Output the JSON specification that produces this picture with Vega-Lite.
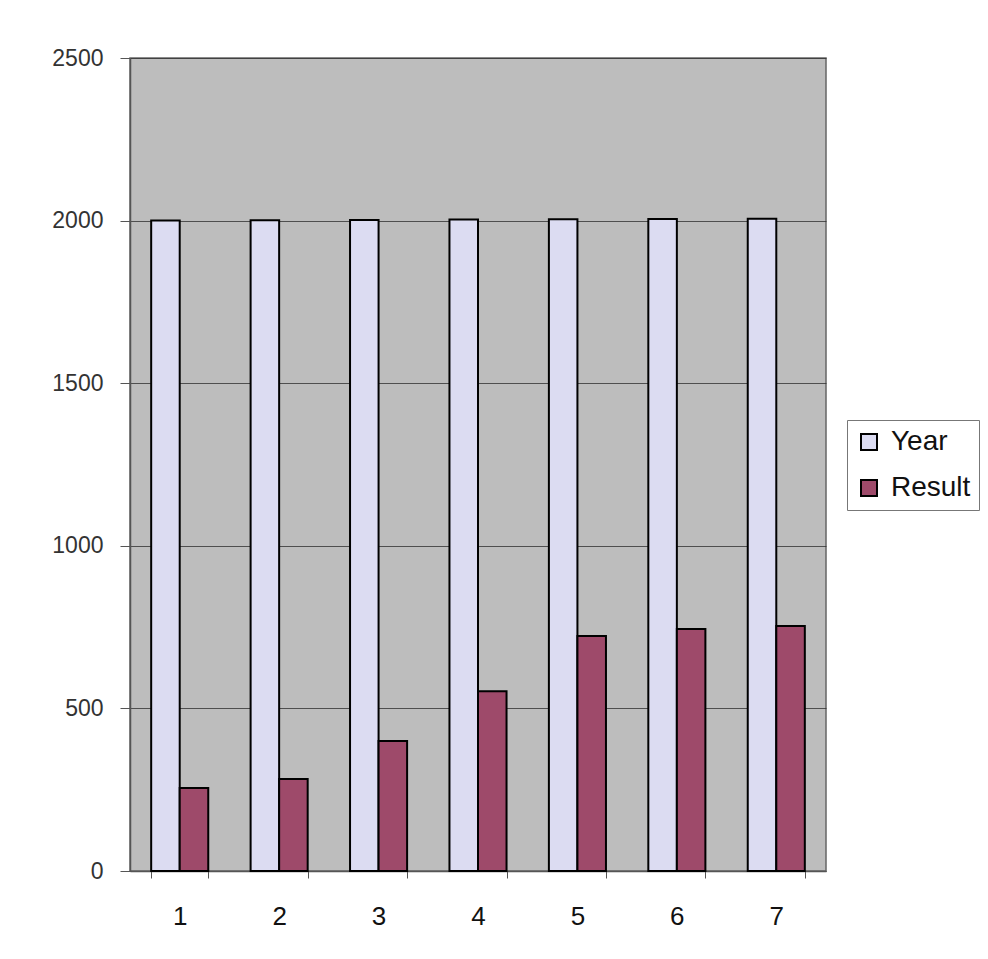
{
  "$schema": "https://vega.github.io/schema/vega-lite/v6.json",
  "autosize": {"type": "none"},
  "width": 696,
  "height": 813,
  "padding": {"left": 130, "top": 58, "right": 162, "bottom": 88},
  "background": "#ffffff",
  "data": {
    "values": [
      {"n": "1", "series": "Year", "value": 2000},
      {"n": "1", "series": "Result", "value": 255},
      {"n": "2", "series": "Year", "value": 2001},
      {"n": "2", "series": "Result", "value": 283},
      {"n": "3", "series": "Year", "value": 2002},
      {"n": "3", "series": "Result", "value": 400},
      {"n": "4", "series": "Year", "value": 2003},
      {"n": "4", "series": "Result", "value": 553},
      {"n": "5", "series": "Year", "value": 2004},
      {"n": "5", "series": "Result", "value": 723},
      {"n": "6", "series": "Year", "value": 2005},
      {"n": "6", "series": "Result", "value": 744},
      {"n": "7", "series": "Year", "value": 2006},
      {"n": "7", "series": "Result", "value": 753}
    ]
  },
  "mark": {"type": "bar", "stroke": "#000000", "strokeWidth": 2},
  "encoding": {
    "x": {
      "field": "n",
      "type": "nominal",
      "scale": {"paddingInner": 0.426, "paddingOuter": 0.213},
      "axis": {
        "title": null,
        "labelAngle": 0,
        "labelFont": "Liberation Sans",
        "labelFontSize": 26,
        "labelColor": "#111111",
        "labelPadding": 25,
        "tickBand": "extent",
        "tickColor": "#555555",
        "tickSize": 7,
        "domainColor": "#555555",
        "domainWidth": 1.5
      }
    },
    "xOffset": {"field": "series", "type": "nominal", "sort": ["Year", "Result"], "scale": {"paddingInner": 0, "paddingOuter": 0}},
    "y": {
      "field": "value",
      "type": "quantitative",
      "scale": {"domain": [0, 2500]},
      "axis": {
        "title": null,
        "values": [0, 500, 1000, 1500, 2000, 2500],
        "format": "d",
        "labelFont": "Liberation Sans",
        "labelFontSize": 23,
        "labelColor": "#333333",
        "labelPadding": 17,
        "tickColor": "#555555",
        "tickSize": 10,
        "domainColor": "#555555",
        "domainWidth": 1.5,
        "grid": true,
        "gridColor": "#333333",
        "gridWidth": 1,
        "gridOpacity": 0.8
      }
    },
    "color": {
      "field": "series",
      "type": "nominal",
      "sort": ["Year", "Result"],
      "scale": {"domain": ["Year", "Result"], "range": ["#dcdcf2", "#9e4a6a"]},
      "legend": {
        "title": null,
        "orient": "none",
        "legendX": 717,
        "legendY": 362,
        "labelFont": "Liberation Sans",
        "labelFontSize": 28,
        "labelColor": "#111111",
        "labelOffset": 8,
        "symbolType": "square",
        "symbolSize": 256,
        "symbolStrokeColor": "#000000",
        "symbolStrokeWidth": 2,
        "rowPadding": 18,
        "padding": 8,
        "strokeColor": "#777777",
        "fillColor": "#ffffff"
      }
    }
  },
  "config": {
    "view": {"fill": "#bdbdbd", "stroke": "#666666", "strokeWidth": 1.5},
    "legend": {"symbolFillColor": null}
  }
}
